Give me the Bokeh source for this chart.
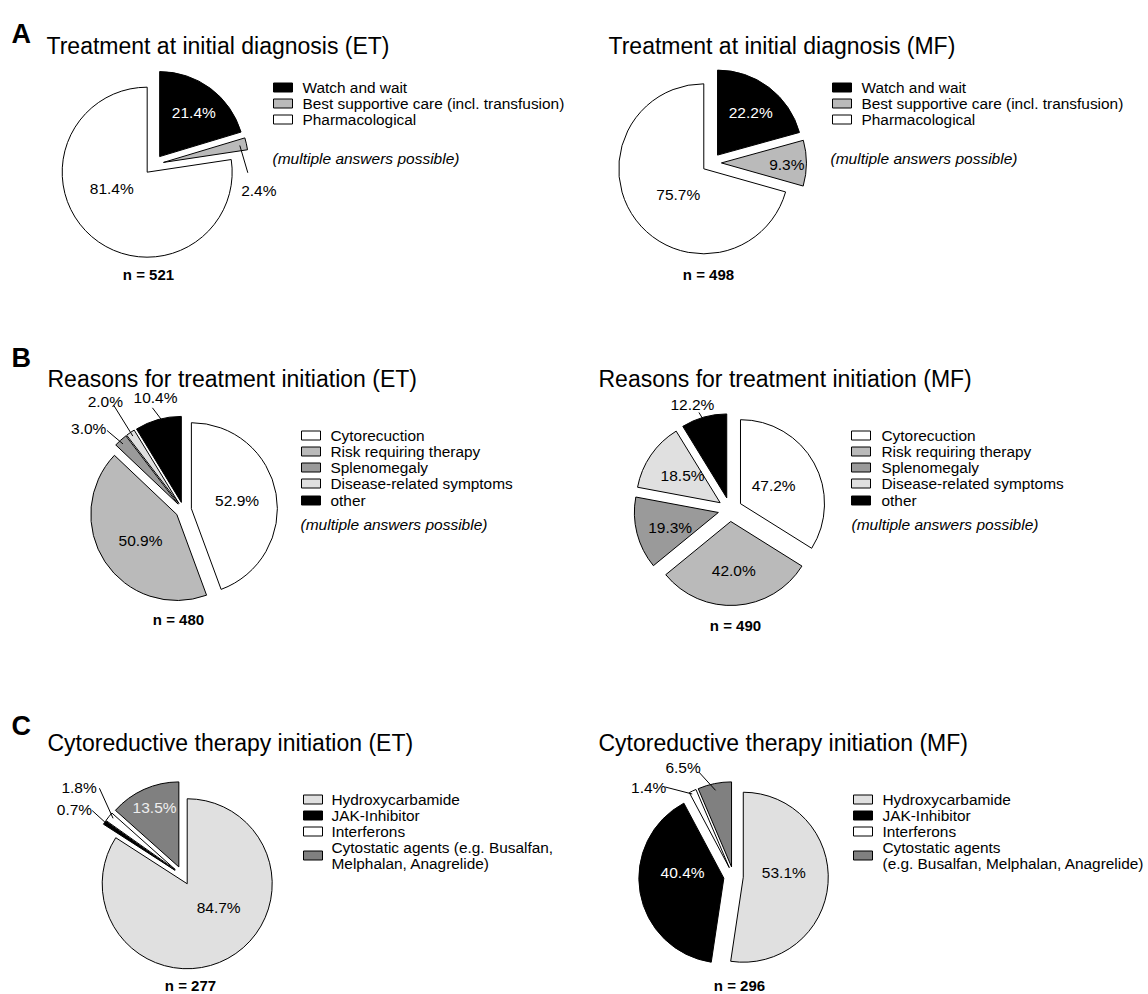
import numpy as np
from bokeh.plotting import figure
from bokeh.models import Range1d
from bokeh.core.properties import value
from bokeh.embed import file_html
from bokeh.resources import INLINE

W, H = 1148, 994
FONT = "Liberation Sans"

# ---------------- data ----------------
treat_labels = ["Watch and wait", "Best supportive care (incl. transfusion)", "Pharmacological"]
treat_et = [21.4, 2.4, 81.4]
treat_mf = [22.2, 9.3, 75.7]

reason_labels = ["Cytorecuction", "Risk requiring therapy", "Splenomegaly",
                 "Disease-related symptoms", "other"]
reason_et = [52.9, 50.9, 3.0, 2.0, 10.4]
reason_mf = [47.2, 42.0, 19.3, 18.5, 12.2]

cyto_labels = ["Hydroxycarbamide", "JAK-Inhibitor", "Interferons", "Cytostatic agents"]
cyto_et = [84.7, 0.7, 1.8, 13.5]
cyto_mf = [53.1, 40.4, 1.4, 6.5]
cyto_detail_et = ["Cytostatic agents (e.g. Busalfan,", "Melphalan, Anagrelide)"]
cyto_detail_mf = ["Cytostatic agents", "(e.g. Busalfan, Melphalan, Anagrelide)"]

n_et = [521, 480, 277]
n_mf = [498, 490, 296]

titles_et = ["Treatment at initial diagnosis (ET)",
             "Reasons for treatment initiation (ET)",
             "Cytoreductive therapy initiation (ET)"]
titles_mf = ["Treatment at initial diagnosis (MF)",
             "Reasons for treatment initiation (MF)",
             "Cytoreductive therapy initiation (MF)"]
panel_letters = ["A", "B", "C"]
note_text = "(multiple answers possible)"

# ---------------- styles ----------------
treat_colors = ["#000000", "#bababa", "#ffffff"]
reason_colors = ["#ffffff", "#bababa", "#9a9a9a", "#e0e0e0", "#000000"]
cyto_colors = ["#e0e0e0", "#000000", "#ffffff", "#808080"]

p = figure(width=W, height=H, x_range=Range1d(0, W), y_range=Range1d(0, H),
           output_backend="svg", toolbar_location=None,
           x_axis_location=None, y_axis_location=None, min_border=0,
           outline_line_color=None, background_fill_color="white",
           border_fill_color="white")
p.xgrid.visible = False
p.ygrid.visible = False


def Y(y):
    return H - y


def txt(x, y, s, size, align="left", baseline="alphabetic", style="normal", color="black"):
    p.text(x=x, y=[Y(v) for v in y], text=s, text_font=value(FONT),
           text_font_size=value(size), text_align=align, text_baseline=baseline,
           text_font_style=style, text_color=color)


def pie(pct, colors, cx, cy, r, explode, specs):
    total = sum(pct)
    bounds = np.concatenate([[0.0], np.cumsum(pct)]) / total * 360.0
    cyu = Y(cy)
    xs, ys, a0, a1, centers = [], [], [], [], []
    for i in range(len(pct)):
        mid = np.radians((bounds[i] + bounds[i + 1]) / 2)
        ex = cx + explode[i] * np.sin(mid)
        ey = cyu + explode[i] * np.cos(mid)
        centers.append((ex, ey))
        xs.append(ex)
        ys.append(ey)
        a0.append(np.radians(90 - bounds[i + 1]))
        a1.append(np.radians(90 - bounds[i]))
    p.wedge(x=xs, y=ys, radius=r, start_angle=a0, end_angle=a1,
            fill_color=colors, line_color="black", line_width=1)

    def polar(i, th, f):
        ex, ey = centers[i]
        t = np.radians(th)
        return ex + f * r * np.sin(t), ey + f * r * np.cos(t)

    lx, ly, lt, lc, mx, my = [], [], [], [], [], []
    for i, spec in enumerate(specs):
        x, y = polar(i, *spec["at"])
        lx.append(x)
        ly.append(y)
        lt.append(f"{pct[i]:.1f}%")
        lc.append(spec.get("color", "black"))
        if "lead" in spec:
            (t1, f1), (t2, f2) = spec["lead"]
            x1, y1 = polar(i, t1, f1)
            x2, y2 = polar(i, t2, f2)
            mx.append([x1, x2])
            my.append([y1, y2])
    if mx:
        p.multi_line(xs=mx, ys=my, line_color="black", line_width=1)
    p.text(x=lx, y=ly, text=lt, text_color=lc, text_font=value(FONT),
           text_font_size=value("15.5px"), text_align="center", text_baseline="middle")


def legend(entries, colors, box_x, text_x, rows, gap=16):
    bx, by = [], []
    tx, ty, tt = [], [], []
    for lines, row in zip(entries, rows):
        bx.append(box_x + 9.5)
        by.append(Y(row))
        k = len(lines)
        for j, s in enumerate(lines):
            tx.append(text_x)
            ty.append(row + (j - (k - 1) / 2) * gap)
            tt.append(s)
    p.rect(x=bx, y=by, width=19, height=9, fill_color=colors,
           line_color="black", line_width=1)
    txt(tx, ty, tt, "15.4px", baseline="middle")


# ---------------- panels ----------------
panels = [
    dict(pct=treat_et, colors=treat_colors, c=(153.2, 164.1), r=85, explode=[10, 10, 10],
         specs=[dict(at=(37.5, 0.66), color="white"),
                dict(at=(106.5, 1.17), lead=((77.5, 0.92), (97, 1.0))),
                dict(at=(245, 0.46))],
         n=n_et[0], n_xy=(148, 274), title=titles_et[0], title_xy=(46, 45),
         entries=[[s] for s in treat_labels], box_x=273, text_x=302, rows=[87, 103, 119],
         note_xy=(272, 158)),
    dict(pct=treat_mf, colors=treat_colors, c=(711.1, 162.4), r=85, explode=[9.8, 9.8, 9.8],
         specs=[dict(at=(37.6, 0.64), color="white"),
                dict(at=(91.7, 0.77)),
                dict(at=(224.3, 0.43))],
         n=n_mf[0], n_xy=(708, 274), title=titles_mf[0], title_xy=(608, 45),
         entries=[[s] for s in treat_labels], box_x=832, text_x=861, rows=[87, 103, 119],
         note_xy=(830, 158)),
    dict(pct=reason_et, colors=reason_colors, c=(183, 509.6), r=86, explode=[8] * 5,
         specs=[dict(at=(79.8, 0.54)),
                dict(at=(234.3, 0.52)),
                dict(at=(310.1, 1.36), lead=((317.5, 0.95), (316, 1.19))),
                dict(at=(324.1, 1.46), lead=((325.6, 0.95), (326.4, 1.37))),
                dict(at=(346.2, 1.26), lead=((347, 0.97), (343, 1.15)))],
         n=n_et[1], n_xy=(178, 619), title=titles_et[1], title_xy=(47, 378),
         entries=[[s] for s in reason_labels], box_x=301, text_x=330,
         rows=[435, 451, 467, 483, 500], note_xy=(300, 524)),
    dict(pct=reason_mf, colors=reason_colors, c=(729.5, 509), r=84, explode=[12] * 5,
         specs=[dict(at=(61.3, 0.45)),
                dict(at=(176.5, 0.58)),
                dict(at=(253, 0.6)),
                dict(at=(305.7, 0.55)),
                dict(at=(339.9, 1.19), lead=((343.5, 0.96), (342, 1.07)))],
         n=n_mf[1], n_xy=(735, 625), title=titles_mf[1], title_xy=(598, 378),
         entries=[[s] for s in reason_labels], box_x=851, text_x=881,
         rows=[435, 451, 467, 483, 500], note_xy=(851, 524)),
    dict(pct=cyto_et, colors=cyto_colors, c=(182.2, 875), r=85, explode=[9.4] * 4,
         specs=[dict(at=(126.5, 0.46)),
                dict(at=(301.1, 1.38), lead=((304.5, 1.0), (305.8, 1.2))),
                dict(at=(310.5, 1.49), lead=((309.5, 0.95), (317, 1.31))),
                dict(at=(337.6, 0.75), color="#eeeeee")],
         n=n_et[2], n_xy=(190, 985), title=titles_et[2], title_xy=(47, 742),
         entries=[[s] for s in cyto_labels[:3]] + [cyto_detail_et], box_x=303, text_x=331,
         rows=[799, 815, 831, 855], note_xy=None),
    dict(pct=cyto_mf, colors=cyto_colors, c=(733, 876), r=85, explode=[9.8] * 4,
         specs=[dict(at=(84, 0.48)),
                dict(at=(278, 0.49), color="white"),
                dict(at=(315, 1.34), lead=((333.3, 0.97), (321.6, 1.21))),
                dict(at=(334, 1.30), lead=((348.2, 0.92), (341, 1.18)))],
         n=n_mf[2], n_xy=(739, 985), title=titles_mf[2], title_xy=(598, 742),
         entries=[[s] for s in cyto_labels[:3]] + [cyto_detail_mf], box_x=853, text_x=882,
         rows=[799, 815, 831, 855], note_xy=None),
]

for pn in panels:
    pie(pn["pct"], pn["colors"], pn["c"][0], pn["c"][1], pn["r"], pn["explode"], pn["specs"])
    legend(pn["entries"], pn["colors"], pn["box_x"], pn["text_x"], pn["rows"])
    txt([pn["title_xy"][0]], [pn["title_xy"][1]], [pn["title"]], "23px")
    txt([pn["n_xy"][0]], [pn["n_xy"][1]], [f"n = {pn['n']}"], "15px",
        align="center", baseline="middle", style="bold")
    if pn["note_xy"]:
        txt([pn["note_xy"][0]], [pn["note_xy"][1]], [note_text], "15.5px",
            baseline="middle", style="italic")

# panel letters
txt([11, 11, 11], [33, 357, 725], panel_letters, "27px", style="bold")

open("out.html", "w").write(file_html(p, INLINE))
